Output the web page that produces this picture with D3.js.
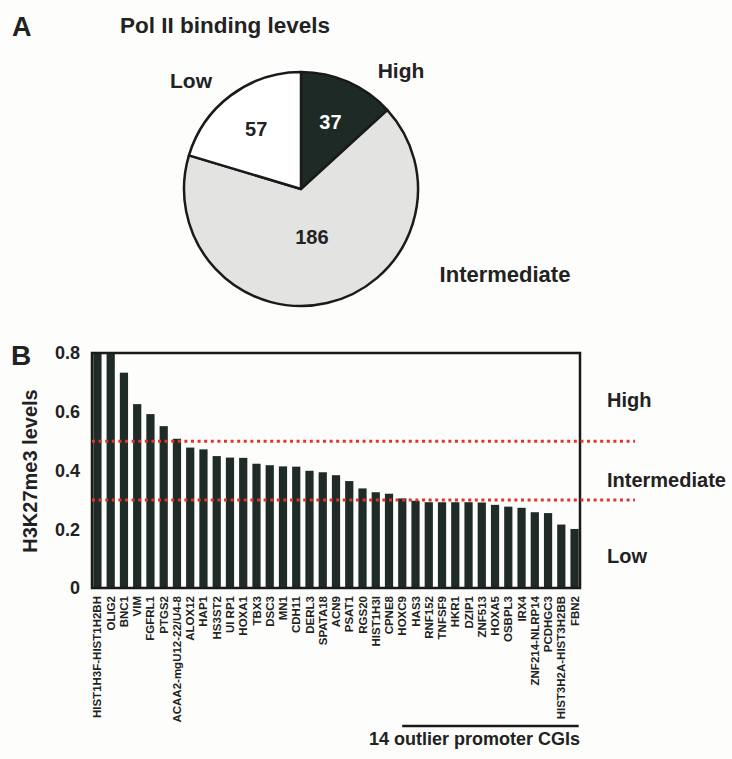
<!DOCTYPE html>
<html>
<head>
<meta charset="utf-8">
<style>
body { margin: 0; background: #fdfdfb; }
svg text { font-family: "Liberation Sans", Arial, sans-serif; font-weight: bold; fill: #222; }
</style>
</head>
<body>
<script src="https://d3js.org/d3.v7.min.js"></script>
<div id="chart"></div>
<script>
// panel A data
var pieLabels = ["High", "Intermediate", "Low"];
var pieValues = [37, 186, 57];

// panel B data
var genes = ["HIST1H3F-HIST1H2BH", "OLIG2", "BNC1", "VIM", "FGFRL1", "PTGS2",
  "ACAA2-mgU12-22/U4-8", "ALOX12", "HAP1", "HS3ST2", "UI RP1", "HOXA1", "TBX3",
  "DSC3", "MN1", "CDH11", "DERL3", "SPATA18", "ACN9", "PSAT1", "RGS20", "HIST1H3I",
  "CPNE8", "HOXC9", "HAS3", "RNF152", "TNFSF9", "HKR1", "DZIP1", "ZNF513", "HOXA5",
  "OSBPL3", "IRX4", "ZNF214-NLRP14", "PCDHGC3", "HIST3H2A-HIST3H2BB", "FBN2"];
var h3k27 = [0.80, 0.80, 0.733, 0.626, 0.592, 0.551, 0.508, 0.478, 0.472, 0.449, 0.444,
  0.443, 0.423, 0.418, 0.414, 0.413, 0.399, 0.394, 0.384, 0.364, 0.339, 0.326, 0.321,
  0.305, 0.297, 0.292, 0.292, 0.292, 0.292, 0.291, 0.283, 0.277, 0.273, 0.258, 0.255,
  0.216, 0.201];
var yTicks = [0, 0.2, 0.4, 0.6, 0.8];
var cutoffs = [0.5, 0.3];
var levelNames = ["High", "Intermediate", "Low"];
var outlierCount = 14;

var W = 732, H = 759;
var svg = d3.select("#chart").append("svg")
  .attr("width", W).attr("height", H);

// ---------- A: pie ----------
svg.append("text").attr("x", 12).attr("y", 36).style("font-size", "27px").text("A");
svg.append("text").attr("x", 120).attr("y", 33).style("font-size", "22.5px").text("Pol II binding levels");

var cx = 301, cy = 189, R = 117;
var pieColors = ["#1d2a25", "#e3e3e1", "#ffffff"];
var pie = d3.pie().sort(null)(pieValues);
var arc = d3.arc().innerRadius(0).outerRadius(R);
var gPie = svg.append("g").attr("transform", "translate(" + cx + "," + cy + ")");

gPie.selectAll("path").data(pie).enter().append("path")
  .attr("d", arc)
  .attr("fill", function(d, i) { return pieColors[i]; })
  .attr("stroke", "#1a1a1a")
  .attr("stroke-width", 2.5)
  .attr("stroke-linejoin", "round");

var numRadius = [73, 49, 75];
gPie.selectAll("text.num").data(pie).enter().append("text")
  .attr("class", "num")
  .attr("transform", function(d, i) {
    var a = d3.arc().innerRadius(numRadius[i]).outerRadius(numRadius[i]);
    return "translate(" + a.centroid(d) + ")";
  })
  .attr("text-anchor", "middle")
  .attr("dy", "0.36em")
  .style("font-size", "20px")
  .style("fill", function(d, i) { return i === 0 ? "#fff" : "#222"; })
  .text(function(d) { return d.value; });

var pieLabelPos = [[401, 78], [505, 282], [191, 88]];
svg.selectAll("text.plab").data(pieLabels).enter().append("text")
  .attr("class", "plab")
  .attr("x", function(d, i) { return pieLabelPos[i][0]; })
  .attr("y", function(d, i) { return pieLabelPos[i][1]; })
  .attr("text-anchor", "middle")
  .style("font-size", function(d, i) { return i === 1 ? "22px" : "21px"; })
  .text(function(d) { return d; });

// ---------- B: bars ----------
svg.append("text").attr("x", 11).attr("y", 365).style("font-size", "28px").text("B");

var plotL = 92, plotR = 580, plotT = 353, plotB = 588;
var x = d3.scaleBand().domain(genes).range([plotL, plotR]).paddingInner(0.38).paddingOuter(0.1);
var y = d3.scaleLinear().domain([0, 0.8]).range([plotB, plotT]);

svg.append("g").selectAll("rect").data(genes).enter().append("rect")
  .attr("x", function(d) { return x(d); })
  .attr("y", function(d, i) { return y(h3k27[i]); })
  .attr("width", x.bandwidth())
  .attr("height", function(d, i) { return y(0) - y(h3k27[i]); })
  .attr("fill", "#1e2b26");

// frame
svg.append("rect")
  .attr("x", plotL).attr("y", plotT)
  .attr("width", plotR - plotL).attr("height", plotB - plotT)
  .attr("fill", "none").attr("stroke", "#1a1a1a").attr("stroke-width", 2.5);

// cutoff lines
svg.selectAll("line.cut").data(cutoffs).enter().append("line")
  .attr("class", "cut")
  .attr("x1", plotL).attr("x2", 635)
  .attr("y1", function(d) { return y(d); })
  .attr("y2", function(d) { return y(d); })
  .attr("stroke", "#e3342c").attr("stroke-width", 3)
  .attr("stroke-dasharray", "3,3.6");

// y axis
var yAxis = svg.append("g")
  .attr("transform", "translate(" + plotL + ",0)")
  .call(d3.axisLeft(y).tickValues(yTicks).tickSize(0).tickPadding(12)
    .tickFormat(function(d) { return d === 0 ? "0" : d3.format(".1f")(d); }));
yAxis.select(".domain").remove();
yAxis.selectAll("text").style("font-size", "18px")
  .style("font-family", "'Liberation Sans', Arial, sans-serif")
  .style("font-weight", "bold").attr("fill", "#222");

svg.append("text")
  .attr("transform", "translate(37,471) rotate(-90)")
  .attr("text-anchor", "middle")
  .style("font-size", "20px")
  .text("H3K27me3 levels");

// gene labels
svg.append("g").selectAll("text").data(genes).enter().append("text")
  .attr("transform", function(d) {
    return "translate(" + (x(d) + x.bandwidth() / 2) + ",596) rotate(-90)";
  })
  .attr("text-anchor", "end")
  .attr("dy", "0.35em")
  .style("font-size", "11.5px")
  .text(function(d) { return d; });

// level labels on the right
var levelY = [0.642, 0.369, 0.111];
svg.selectAll("text.lev").data(levelNames).enter().append("text")
  .attr("class", "lev")
  .attr("x", 607)
  .attr("y", function(d, i) { return y(levelY[i]); })
  .attr("dy", "0.36em")
  .style("font-size", "20px")
  .text(function(d) { return d; });

// outlier bracket
var firstOut = genes[genes.length - outlierCount];
var lastOut = genes[genes.length - 1];
svg.append("line")
  .attr("x1", x(firstOut) + 4).attr("x2", x(lastOut) + x.bandwidth())
  .attr("y1", 726).attr("y2", 726)
  .attr("stroke", "#1a1a1a").attr("stroke-width", 2.5);
svg.append("text")
  .attr("x", 369).attr("y", 745)
  .style("font-size", "18px")
  .text(outlierCount + " outlier promoter CGIs");
</script>
</body>
</html>
